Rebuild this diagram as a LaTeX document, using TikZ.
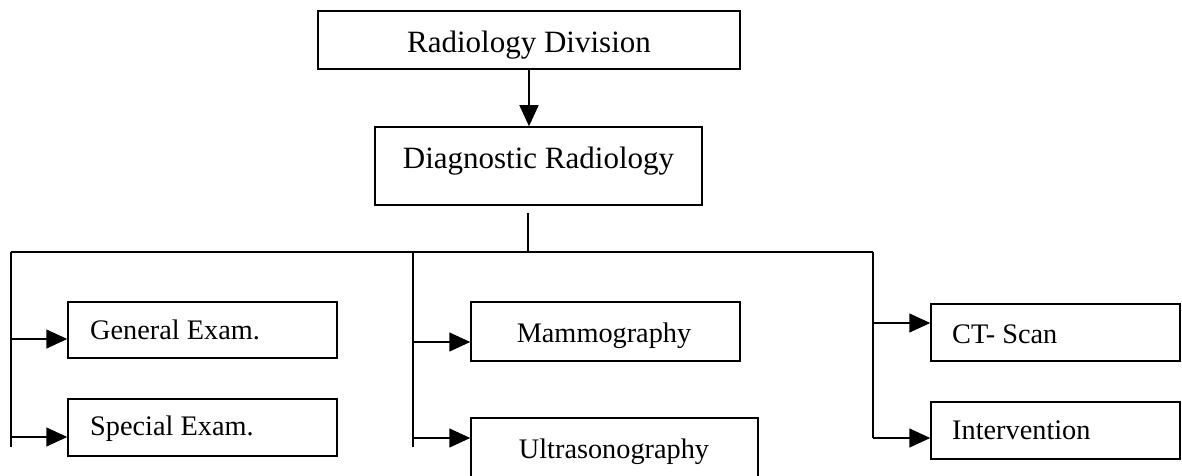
\documentclass[tikz,border=0pt]{standalone}
\usepackage{fontspec}
\setmainfont{Liberation Serif}
\usetikzlibrary{arrows.meta}
\begin{document}
\begin{tikzpicture}[x=1pt,y=-1pt,
  box/.style={draw=black, line width=1.5pt, inner sep=0pt, minimum width=#1},
  bigtxt/.style={inner sep=0pt, font=\fontsize{31}{36}\selectfont},
  txt/.style={inner sep=0pt, font=\fontsize{28.3}{34}\selectfont},
  ln/.style={line width=1.5pt},
  arr/.style={line width=1.5pt, -{Triangle[length=21pt,width=19pt]}}]
\fill[white] (0,0) rectangle (1182,476);
\useasboundingbox (0,0) rectangle (1182,476);
% boxes
\node[box=422pt, minimum height=58pt] (rd) at (529,40) {};
\node[box=327pt, minimum height=78pt] (dr) at (538.5,166) {};
\node[box=269pt, minimum height=56pt] (ge) at (202.5,330) {};
\node[box=269pt, minimum height=57pt] (se) at (202.5,427.5) {};
\node[box=269pt, minimum height=59pt] (mg) at (605.5,331.5) {};
\node[box=287pt, minimum height=64pt] (us) at (614.5,450) {};
\node[box=249pt, minimum height=57pt] (ct) at (1055.5,332.5) {};
\node[box=249pt, minimum height=57pt] (iv) at (1055.5,430.5) {};
% texts
\node[bigtxt, anchor=base] (rdt) at (529,53) {Radiology Division};
\node[bigtxt, anchor=base] (drt) at (538.5,168) {Diagnostic Radiology};
\node[txt, anchor=base west] (get) at (90,339) {General Exam.};
\node[txt, anchor=base west] (set) at (90,435) {Special Exam.};
\node[txt, anchor=base] (mgt) at (604,342) {Mammography};
\node[txt, anchor=base] (ust) at (614,458) {Ultrasonography};
\node[txt, anchor=base west] (ctt) at (952,343) {CT- Scan};
\node[txt, anchor=base west] (ivt) at (952,439) {Intervention};
% bus coordinates
\coordinate (drout) at (528,213);
\coordinate (top) at (528,252);
\coordinate (bl) at (11,252);
\coordinate (bm) at (413,252);
\coordinate (br) at (873,252);
\coordinate (lend) at (11,447);
\coordinate (mend) at (413,447);
\coordinate (rend) at (873,438);
% arrow targets
\coordinate (gein) at ([yshift=-9pt]ge.west);
\coordinate (sein) at ([yshift=-9.5pt]se.west);
\coordinate (mgin) at ([yshift=-10.5pt]mg.west);
\coordinate (usin) at ([yshift=12pt]us.west);
\coordinate (ctin) at ([yshift=9.5pt]ct.west);
\coordinate (ivin) at ([yshift=-7.5pt]iv.west);
% connectors
\draw[arr] (rd.south) -- (rd.south |- dr.north);
\draw[ln] (drout) -- (top);
\draw[ln] (bl) -- (br);
\draw[ln] (bl) -- (lend);
\draw[ln] (bm) -- (mend);
\draw[ln] (br) -- (rend);
\draw[arr] (bl |- gein) -- (gein);
\draw[arr] (bl |- sein) -- (sein);
\draw[arr] (bm |- mgin) -- (mgin);
\draw[arr] (bm |- usin) -- (usin);
\draw[arr] (br |- ctin) -- (ctin);
\draw[arr] (br |- ivin) -- (ivin);
\end{tikzpicture}
\end{document}
